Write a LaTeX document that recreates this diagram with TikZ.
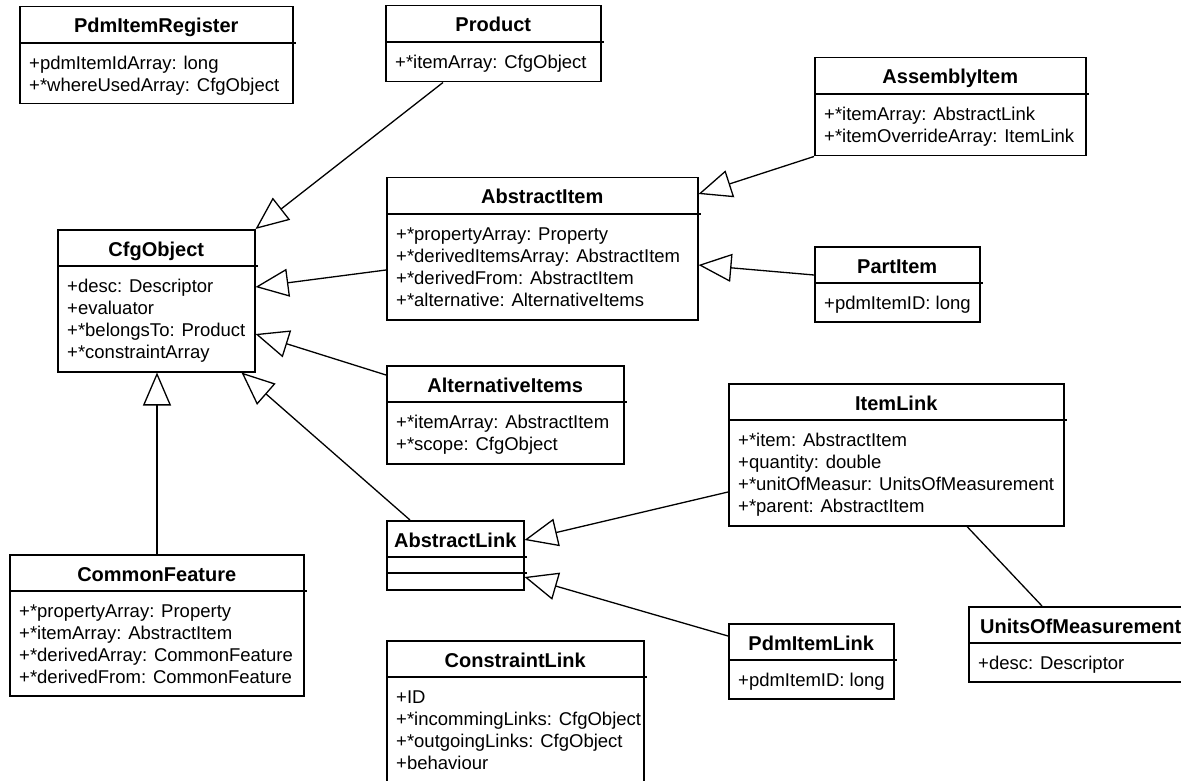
\documentclass[tikz,border=0pt]{standalone}
\usepackage{fontspec}
\setmainfont{Liberation Sans}
\usetikzlibrary{arrows.meta}
\tikzset{
  ubox/.style={draw, line width=1.5pt, anchor=north west, inner sep=0pt, fill=white},
  utitle/.style={font=\bfseries\fontsize{20}{22}\selectfont, inner sep=0pt, text height=14pt, text depth=0pt, anchor=center},
  uattr/.style={font=\fontsize{18.5}{22}\selectfont, inner sep=0pt, text height=13pt, text depth=0pt, anchor=west},
  udiv/.style={line width=1.3pt},
  gen/.style={line width=1.3pt, -{Triangle[open, length=33pt, width=28pt, line width=1.3pt]}},
  assoc/.style={line width=1.3pt},
}
\newcommand{\umlbox}[6]{%
  \node[ubox, minimum width=#4pt, minimum height=#5pt] (#1) at (#2,#3) {};
  \node[utitle] (#1-title) at ([yshift=-20pt]#1.north) {#6};
  \draw[udiv] ([yshift=-37pt]#1.north west) -- ([yshift=-37pt,xshift=2pt]#1.north east);
}
\newcommand{\umlattrs}[2]{%
  \foreach \attrtext [count=\attri] in {#2} {
    \node[uattr] (#1-a\attri) at ([xshift=10pt, yshift={-57pt-(\attri-1)*22pt}]#1.north west) {\attrtext};
  }
}
\begin{document}
\begin{tikzpicture}[x=1pt, y=-1pt]
\clip (0,0) rectangle (1181,781);
\fill[white] (0,0) rectangle (1181,781);

% classes
\umlbox{reg}{19}{6}{273}{97}{PdmItemRegister}
\umlattrs{reg}{+pdmItemIdArray: long, +*whereUsedArray: CfgObject}

\umlbox{prod}{385}{5}{215}{76}{Product}
\umlattrs{prod}{+*itemArray: CfgObject}

\umlbox{asm}{814}{57}{271}{98}{AssemblyItem}
\umlattrs{asm}{+*itemArray: AbstractLink, +*itemOverrideArray: ItemLink}

\umlbox{ai}{386}{177}{311}{142}{AbstractItem}
\umlattrs{ai}{+*propertyArray: Property, +*derivedItemsArray: AbstractItem, +*derivedFrom: AbstractItem, +*alternative: AlternativeItems}

\umlbox{cfg}{57}{229}{197}{142}{CfgObject}
\umlattrs{cfg}{+desc: Descriptor, +evaluator, +*belongsTo: Product, +*constraintArray}

\umlbox{part}{814}{246}{165}{75}{PartItem}
\umlattrs{part}{+pdmItemID: long}

\umlbox{alt}{386}{365}{237}{98}{AlternativeItems}
\umlattrs{alt}{+*itemArray: AbstractItem, +*scope: CfgObject}

\umlbox{il}{728}{383}{335}{142}{ItemLink}
\umlattrs{il}{+*item: AbstractItem, +quantity: double, +*unitOfMeasur: UnitsOfMeasurement, +*parent: AbstractItem}

\umlbox{al}{386}{520}{137}{69}{AbstractLink}
\draw[udiv] ([yshift=-53pt]al.north west) -- ([yshift=-53pt,xshift=2pt]al.north east);

\umlbox{cf}{9}{554}{294}{141}{CommonFeature}
\umlattrs{cf}{+*propertyArray: Property, +*itemArray: AbstractItem, +*derivedArray: CommonFeature, +*derivedFrom: CommonFeature}

\umlbox{pil}{728}{623}{165}{75}{PdmItemLink}
\umlattrs{pil}{+pdmItemID: long}

\umlbox{uom}{968}{606}{224}{75}{UnitsOfMeasurement}
\umlattrs{uom}{+desc: Descriptor}

\umlbox{cl}{386}{640}{257}{150}{ConstraintLink}
\umlattrs{cl}{+ID, +*incommingLinks: CfgObject, +*outgoingLinks: CfgObject, +behaviour}

% generalizations
\draw[gen] ([xshift=58pt]prod.south west) -- (cfg.north east);
\draw[gen] ([yshift=-93pt]ai.north west) -- ([yshift=-58pt]cfg.north east);
\draw[gen] ([yshift=-10pt]alt.north west) -- ([yshift=-105pt]cfg.north east);
\draw[gen] ([xshift=24pt]al.north west) -- ([xshift=-14pt]cfg.south east);
\draw[gen] ([xshift=148pt]cf.north west) -- ([xshift=100pt]cfg.south west);
\draw[gen] (asm.south west) -- ([yshift=-17pt]ai.north east);
\draw[gen] ([yshift=-29pt]part.north west) -- ([yshift=-88pt]ai.north east);
\draw[gen] ([yshift=-109pt]il.north west) -- ([yshift=-20pt]al.north east);
\draw[gen] ([yshift=-13pt]pil.north west) -- ([yshift=-57pt]al.north east);
% association
\draw[assoc] ([xshift=239pt]il.south west) -- ([xshift=74pt]uom.north west);
\end{tikzpicture}
\end{document}
